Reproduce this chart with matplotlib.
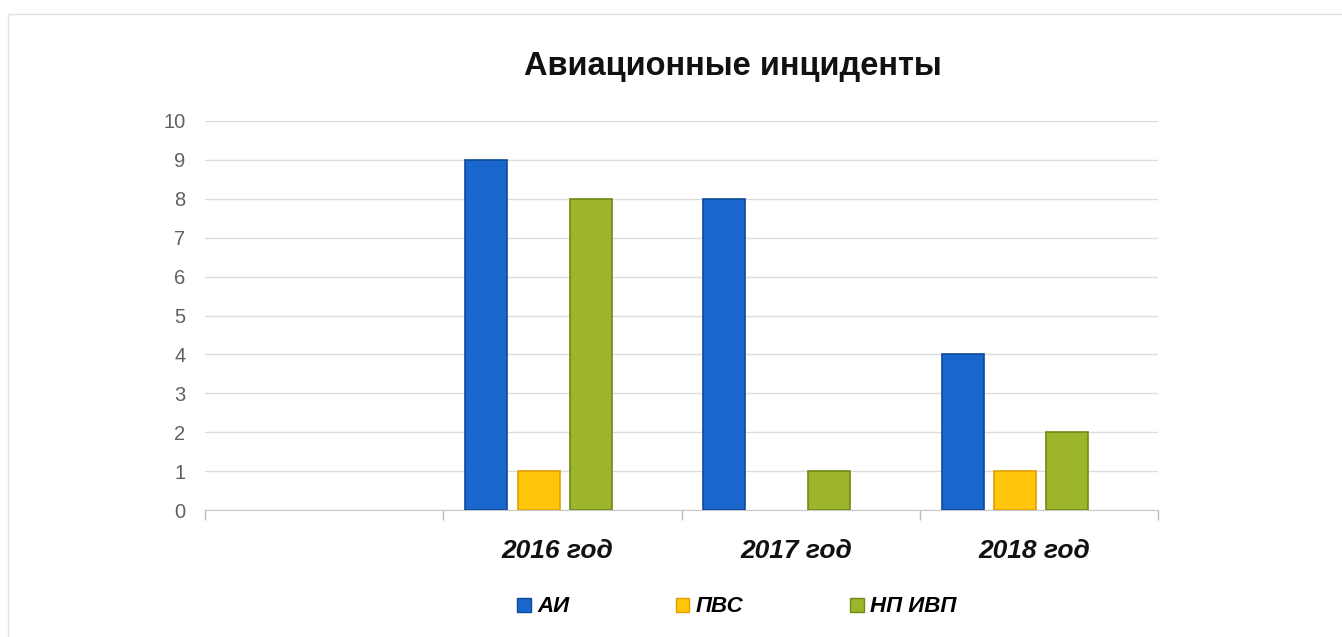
import numpy as np
import matplotlib.pyplot as plt
from matplotlib.patches import Patch

# data
categories = ["", "2016 год", "2017 год", "2018 год"]
series_names = ["АИ", "ПВС", "НП ИВП"]
ai = [0, 9, 8, 4]
pvs = [0, 1, 0, 1]
np_ivp = [0, 8, 1, 2]
y_ticks = list(range(0, 11))

colors = ["#1967CC", "#FFC60B", "#9CB52A"]
edges = ["#0D4A9A", "#E0A000", "#6F8A16"]

fig = plt.figure(figsize=(13.42, 6.37), dpi=100)
ax = fig.add_axes([205 / 1342, 1 - 510 / 637, 953 / 1342, 389 / 637])

x = np.arange(len(categories))
width = 0.176
offsets = [-0.32, -0.10, 0.12]
for vals, off, c, e in zip([ai, pvs, np_ivp], offsets, colors, edges):
    lw = [1.2 if v else 0 for v in vals]
    ax.bar(x + off, vals, width=width, color=c, edgecolor=e, linewidth=lw, zorder=3)

ax.set_xlim(-0.5, len(categories) - 0.5)
ax.set_ylim(0, 10)
ax.set_yticks(y_ticks)
ax.set_yticklabels([str(v) for v in y_ticks], fontsize=14.5, color="#606060",
                   family="Liberation Sans")
ax.tick_params(axis="y", length=0, pad=14)
ax.grid(axis="y", color="#DCDCDC", linewidth=1, zorder=0)

# category labels and boundary ticks
ax.set_xticks(x - 0.02)
ax.set_xticklabels(categories, fontsize=19, fontweight="bold", fontstyle="italic",
                   family="Liberation Sans", color="#111111")
ax.tick_params(axis="x", length=0, pad=21)
ax.set_xticks(np.arange(-0.5, len(categories)), minor=True)
ax.tick_params(axis="x", which="minor", length=7, color="#BBBBBB", width=1)

for s in ["top", "right", "left"]:
    ax.spines[s].set_visible(False)
ax.spines["bottom"].set_color("#C8C8C8")

fig.text(733 / 1342, 1 - 66 / 637, "Авиационные инциденты", ha="center", va="center",
         fontsize=23.5, fontweight="bold", family="Liberation Sans", color="#111111")

handles = [Patch(facecolor=c, edgecolor=e) for c, e in zip(colors, edges)]
fig.legend(handles, series_names, loc="center", bbox_to_anchor=(737 / 1342, 1 - 607 / 637),
           ncol=3, frameon=False, handlelength=0.6, handleheight=0.6, handletextpad=0.3,
           columnspacing=4.8, prop={"family": "Liberation Sans", "size": 16,
                                     "weight": "bold", "style": "italic"})

# faint frame of the embedded chart
fig.add_artist(plt.Line2D([8 / 1342, 8 / 1342], [0, 1 - 14 / 637], transform=fig.transFigure,
                          color="#E2E2E2", linewidth=1))
fig.add_artist(plt.Line2D([8 / 1342, 1], [1 - 14 / 637, 1 - 14 / 637], transform=fig.transFigure,
                          color="#E2E2E2", linewidth=1))

fig.savefig("out.png", dpi=100)
